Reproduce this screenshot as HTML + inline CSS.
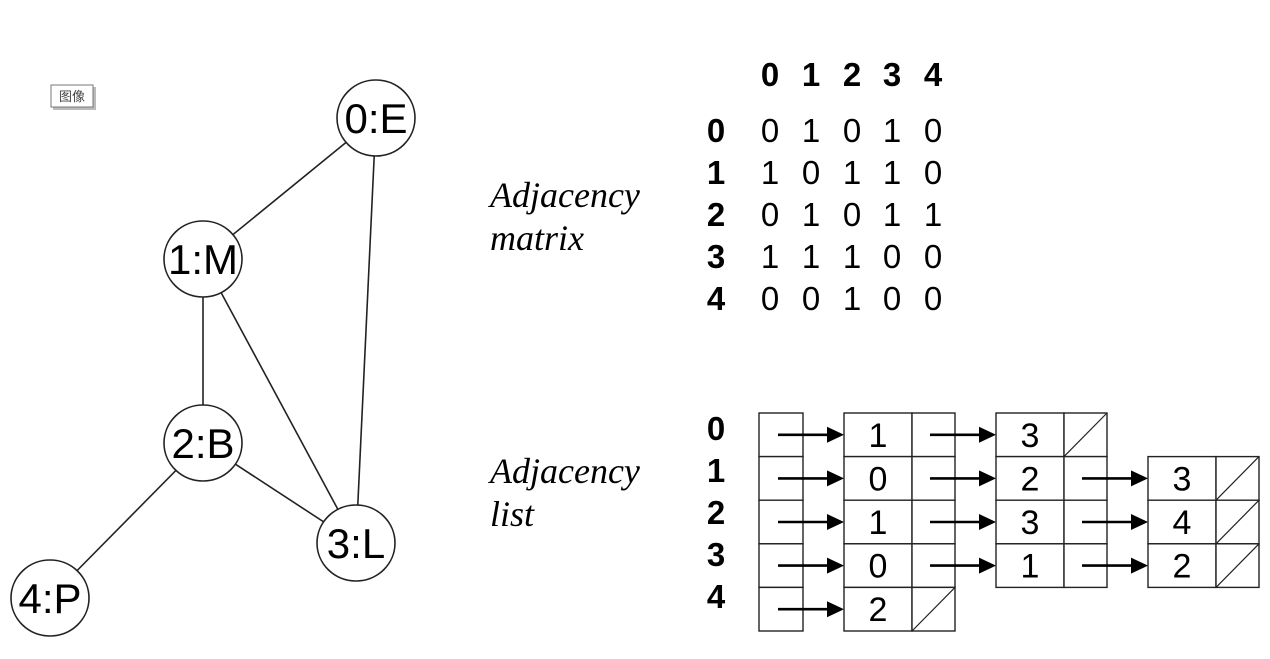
<!DOCTYPE html>
<html><head><meta charset="utf-8"><style>
html,body{margin:0;padding:0;background:#fff;}
svg{display:block;}
.sans{font-family:"Liberation Sans",Arial,sans-serif;}
.ser{font-family:"Liberation Serif","Times New Roman",serif;font-style:italic;}
</style></head><body>
<svg id="fig" width="1270" height="659" viewBox="0 0 1270 659" xmlns="http://www.w3.org/2000/svg">
<g>
<rect x="53" y="87" width="43" height="23" fill="#bbb"/>
<rect x="51" y="85" width="42" height="22" fill="#fff" stroke="#777" stroke-width="1"/>
<text x="72" y="101" text-anchor="middle" font-size="13" font-family="'Liberation Sans','Noto Sans CJK SC',sans-serif" fill="#444">图像</text>
</g>
<g id="graph"></g>
<text x="490" y="207" font-size="36" class="ser">Adjacency</text>
<text x="490" y="250" font-size="36" class="ser">matrix</text>
<text x="490" y="483" font-size="36" class="ser">Adjacency</text>
<text x="490" y="526" font-size="36" class="ser">list</text>
<g id="matrix"></g>
<g id="alist"></g>
</svg>
<script>
const nodeLabels = ["0:E","1:M","2:B","3:L","4:P"];
const nodeX = [376, 203, 203, 356, 50];
const nodeY = [118, 259, 443, 543, 598];
const edges = [[0,1],[0,3],[1,2],[1,3],[2,3],[2,4]];
const matrixRows = [[0,1,0,1,0],[1,0,1,1,0],[0,1,0,1,1],[1,1,1,0,0],[0,0,1,0,0]];
const adjLists = [[1,3],[0,2,3],[1,3,4],[0,1,2],[2]];

const NS = "http://www.w3.org/2000/svg";
function mk(tag, attrs, parent, txt){
  const e = document.createElementNS(NS, tag);
  for (const k in attrs) e.setAttribute(k, attrs[k]);
  if (txt !== undefined) e.textContent = txt;
  parent.appendChild(e); return e;
}
const g = document.getElementById('graph');
edges.forEach(([a,b])=>{
  const l = mk('line',{x1:nodeX[a],y1:nodeY[a],x2:nodeX[b],y2:nodeY[b],stroke:'#222','stroke-width':1.6},g);
  
  
});
nodeLabels.forEach((lab,i)=>{
  const c = mk('ellipse',{cx:nodeX[i],cy:nodeY[i],rx:39,ry:38,fill:'#fff',stroke:'#222','stroke-width':1.6},g);
  
  
  const t = mk('text',{x:nodeX[i],y:nodeY[i]+15,'text-anchor':'middle','font-size':42,class:'sans',fill:'#000'},g,lab);
  
  
});
const m = document.getElementById('matrix');
const colX = [770, 811, 852, 892, 933];
for (let j=0;j<5;j++){
  const t = mk('text',{x:colX[j],y:86,'text-anchor':'middle','font-size':33,'font-weight':'bold',class:'sans'},m,String(j));
  
  
}
matrixRows.forEach((row,i)=>{
  const y = 142 + i*42;
  const r = mk('text',{x:716,y:y,'text-anchor':'middle','font-size':33,'font-weight':'bold',class:'sans'},m,String(i));
  
  
  row.forEach((v,j)=>{
    const t = mk('text',{x:colX[j],y:y,'text-anchor':'middle','font-size':33,class:'sans'},m,String(v));
    
    
  });
});
const L = document.getElementById('alist');
const top0 = 413, rh = 43.6;
const blockX = [844, 996, 1148];
const bw = 68, pw = 43;
function arrow(x1,x2,y){
  mk('line',{x1:x1,y1:y,x2:x2-14,y2:y,stroke:'#000','stroke-width':2.6},L);
  mk('polygon',{points:`${x2-17},${y-8} ${x2},${y} ${x2-17},${y+8}`,fill:'#000'},L);
}
adjLists.forEach((lst,i)=>{
  const y0 = top0 + i*rh, cy = y0 + rh/2;
  const lab = mk('text',{x:716,y:440+42*i,'text-anchor':'middle','font-size':33,'font-weight':'bold',class:'sans'},L,String(i));
  
  
  const h = mk('rect',{x:759,y:y0,width:44,height:rh,fill:'#fff',stroke:'#222','stroke-width':1.4},L);
  
  
  arrow(778, blockX[0], cy);
  lst.forEach((v,k)=>{
    const bx = blockX[k];
    const c1 = mk('rect',{x:bx,y:y0,width:bw,height:rh,fill:'#fff',stroke:'#222','stroke-width':1.4},L);
    
    
    const c2 = mk('rect',{x:bx+bw,y:y0,width:pw,height:rh,fill:'#fff',stroke:'#222','stroke-width':1.4},L);
    
    
    const t = mk('text',{x:bx+bw/2,y:cy+12,'text-anchor':'middle','font-size':34,class:'sans'},L,String(v));
    
    
    if (k === lst.length-1){
      mk('line',{x1:bx+bw,y1:y0+rh,x2:bx+bw+pw,y2:y0,stroke:'#222','stroke-width':1.2},L);
    } else {
      arrow(bx+bw+18, blockX[k+1], cy);
    }
  });
});
// re-draw arrow lines over head cell / pointer cell borders is already handled by draw order
</script>
</body></html>
